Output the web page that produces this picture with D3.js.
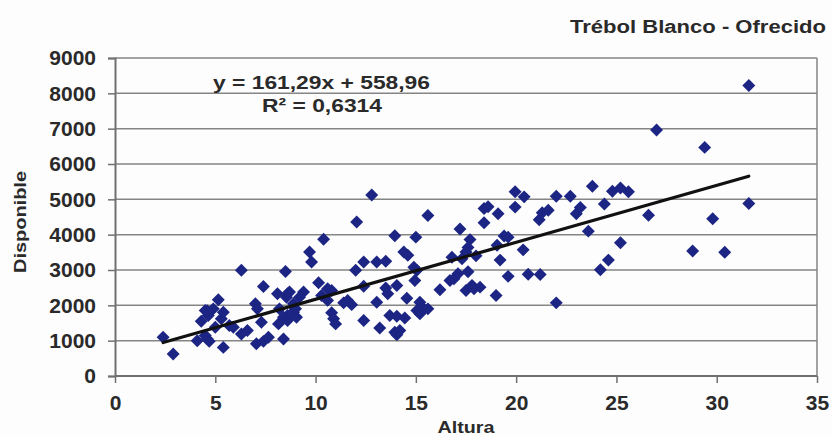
<!DOCTYPE html>
<html>
<head>
<meta charset="utf-8">
<script src="https://cdn.jsdelivr.net/npm/d3@7"></script>
<style>
  body { margin: 0; background: #fdfdfd; }
  svg text { font-family: "Liberation Sans", Arial, sans-serif; font-weight: bold; fill: #2a2a2a; }
</style>
</head>
<body>
<div id="chart"></div>
<script>
// Altura (x) vs Disponible (y)
const altura = [
  2.4, 2.9, 4.1, 4.3, 4.5, 4.5, 4.6, 4.65, 4.6, 4.7, 4.9, 5.0, 5.15, 5.3, 5.4, 5.4,
  5.7, 5.9, 6.3, 6.3, 6.6, 7.0, 7.1, 7.3, 7.4, 7.05, 7.4, 7.65,
  8.1, 8.5, 8.6, 8.55, 8.7, 8.2, 8.6, 8.9, 8.15, 8.6, 8.4, 8.4, 8.9, 9.0, 8.8, 9.05, 9.2, 9.4, 9.7, 9.8, 10.15,
  10.4, 10.3, 10.6, 10.6, 10.8, 10.8, 10.9, 11.0, 11.4, 11.6, 11.8, 12.0, 12.4, 12.05, 12.4, 12.4, 12.8,
  13.05, 13.5, 13.05, 13.2, 13.5, 13.6, 13.7, 14.05, 14.45, 13.95, 14.05, 13.95, 14.05, 14.4, 14.6, 14.9, 15.05, 14.95, 14.55, 15.0, 14.2,
  15.05, 15.2, 15.4, 15.6, 15.2, 15.6, 16.2, 16.8, 16.7, 16.9, 17.1,
  17.2, 17.6, 17.7, 17.6, 17.5, 18.0, 17.3, 17.5, 17.8, 18.2, 17.9, 18.4, 18.4, 18.6, 19.1, 19.05, 19.4, 19.6, 19.2, 19.0, 19.6, 19.95, 19.95, 20.4, 20.35,
  20.6, 21.2, 21.15, 21.3, 21.6, 22.0, 22.7, 22.0, 23.0, 23.2, 23.6, 23.8, 24.4, 24.8, 25.2, 25.6, 25.2, 24.6, 24.2,
  26.6, 27.0, 28.8, 29.4, 29.8, 30.4, 31.6, 31.6
];
const disponible = [
  1095, 625, 1000, 1550, 1855, 1145, 1050, 1710, 1850, 980, 1900, 1380, 2160, 1620, 1805, 810,
  1430, 1380, 2990, 1190, 1290, 2045, 1900, 1520, 2535, 910, 980, 1095,
  2330, 2960, 2330, 2230, 2375, 1900, 1710, 1805, 1475, 1570, 1665, 1050, 2045, 1900, 1760, 1665, 2230, 2375, 3510, 3225, 2640,
  3870, 2280, 2140, 2470, 2420, 1790, 1620, 1475, 2070, 2140, 2020, 2990, 3225, 4360, 2540, 1570, 5120,
  3225, 3250, 2090, 1360, 2490, 2330, 1710, 1690, 1640, 1240, 1170, 3970, 2560, 3510, 3420, 3080, 2990, 2705, 2200, 3930, 1285,
  1855, 2090, 1900, 1900, 1760, 4540, 2440, 3360, 2705, 2755, 2895,
  4160, 2950, 3860, 3640, 3510, 3400, 3320, 2420, 2565, 2515, 2470, 4340, 4740, 4790, 4590, 3700, 3960, 3930, 3280, 2280, 2820, 4780, 5215, 5070, 3570,
  2880, 2870, 4420, 4620, 4690, 5090, 5090, 2070, 4590, 4770, 4100, 5370, 4870, 5230, 5320, 5215, 3770, 3280, 3010,
  4550, 6965, 3540, 6470, 4450, 3500, 8220, 4880
];
const xTicks = [0, 5, 10, 15, 20, 25, 30, 35];
const yTicks = [0, 1000, 2000, 3000, 4000, 5000, 6000, 7000, 8000, 9000];
const slope = 161.29, intercept = 558.96;
const eqText = "y = 161,29x + 558,96";
const r2Text = "R² = 0,6314";
const title = "Trébol Blanco - Ofrecido";

const width = 832, height = 437;
const margin = { top: 58, right: 15, bottom: 61, left: 115 };
const w = width - margin.left - margin.right;
const h = height - margin.top - margin.bottom;

const svg = d3.select("#chart").append("svg")
  .attr("width", width)
  .attr("height", height);

const g = svg.append("g")
  .attr("transform", `translate(${margin.left},${margin.top})`);

const x = d3.scaleLinear().domain([0, 35]).range([0, w]);
const y = d3.scaleLinear().domain([0, 9000]).range([h, 0]);

// grid
g.append("g").selectAll("line")
  .data(yTicks.slice(1))
  .join("line")
  .attr("x1", 0).attr("x2", w)
  .attr("y1", d => y(d)).attr("y2", d => y(d))
  .attr("stroke", "#858585")
  .attr("stroke-width", 1.5);

// right border
g.append("line")
  .attr("x1", w).attr("x2", w).attr("y1", 0).attr("y2", h)
  .attr("stroke", "#858585").attr("stroke-width", 1.5);

// axes
const yAxis = d3.axisLeft(y).tickValues(yTicks).tickSize(7).tickPadding(12).tickFormat(d3.format("d"));
const xAxis = d3.axisBottom(x).tickValues(xTicks).tickSize(7).tickPadding(12);

const yg = g.append("g").attr("class", "axis y-axis").call(yAxis);
const xg = g.append("g").attr("class", "axis x-axis")
  .attr("transform", `translate(0,${h})`).call(xAxis);

[yg, xg].forEach(a => {
  a.select(".domain").attr("stroke", "#707070").attr("stroke-width", 2);
  a.selectAll(".tick line").attr("stroke", "#707070").attr("stroke-width", 1.5);
  a.selectAll(".tick text").style("font-size", "21px").attr("fill", "#2a2a2a");
});
xg.select(".domain").attr("d", `M0.5,0H${w}`);

// points
const pts = altura.map((a, i) => ({ a: a, d: disponible[i] }));
g.append("g").selectAll("path")
  .data(pts)
  .join("path")
  .attr("d", d3.symbol(d3.symbolSquare, 84)())
  .attr("transform", d => `translate(${x(d.a)},${y(d.d)}) rotate(45)`)
  .attr("fill", "#1c2584");

// trend line
const x0 = d3.min(altura), x1 = d3.max(altura);
g.append("line")
  .attr("x1", x(x0)).attr("y1", y(slope * x0 + intercept))
  .attr("x2", x(x1)).attr("y2", y(slope * x1 + intercept))
  .attr("stroke", "#111")
  .attr("stroke-width", 3.2)
  .attr("stroke-linecap", "round");

// equation
g.append("text").attr("x", 213 - margin.left).attr("y", 31)
  .attr("textLength", 217).attr("lengthAdjust", "spacingAndGlyphs")
  .style("font-size", "19px").text(eqText);
g.append("text").attr("x", 262 - margin.left).attr("y", 54)
  .attr("textLength", 120).attr("lengthAdjust", "spacingAndGlyphs")
  .style("font-size", "19px").text(r2Text);

// title and labels
svg.append("text").attr("x", 570).attr("y", 33)
  .attr("textLength", 256).attr("lengthAdjust", "spacingAndGlyphs")
  .style("font-size", "18px").text(title);
svg.append("text").attr("x", margin.left + w / 2).attr("y", 433)
  .attr("text-anchor", "middle")
  .attr("textLength", 57).attr("lengthAdjust", "spacingAndGlyphs")
  .style("font-size", "16px").text("Altura");
svg.append("text")
  .attr("transform", `translate(26,222) rotate(-90)`)
  .attr("text-anchor", "middle")
  .attr("textLength", 102).attr("lengthAdjust", "spacingAndGlyphs")
  .style("font-size", "16px").text("Disponible");
</script>
</body>
</html>
